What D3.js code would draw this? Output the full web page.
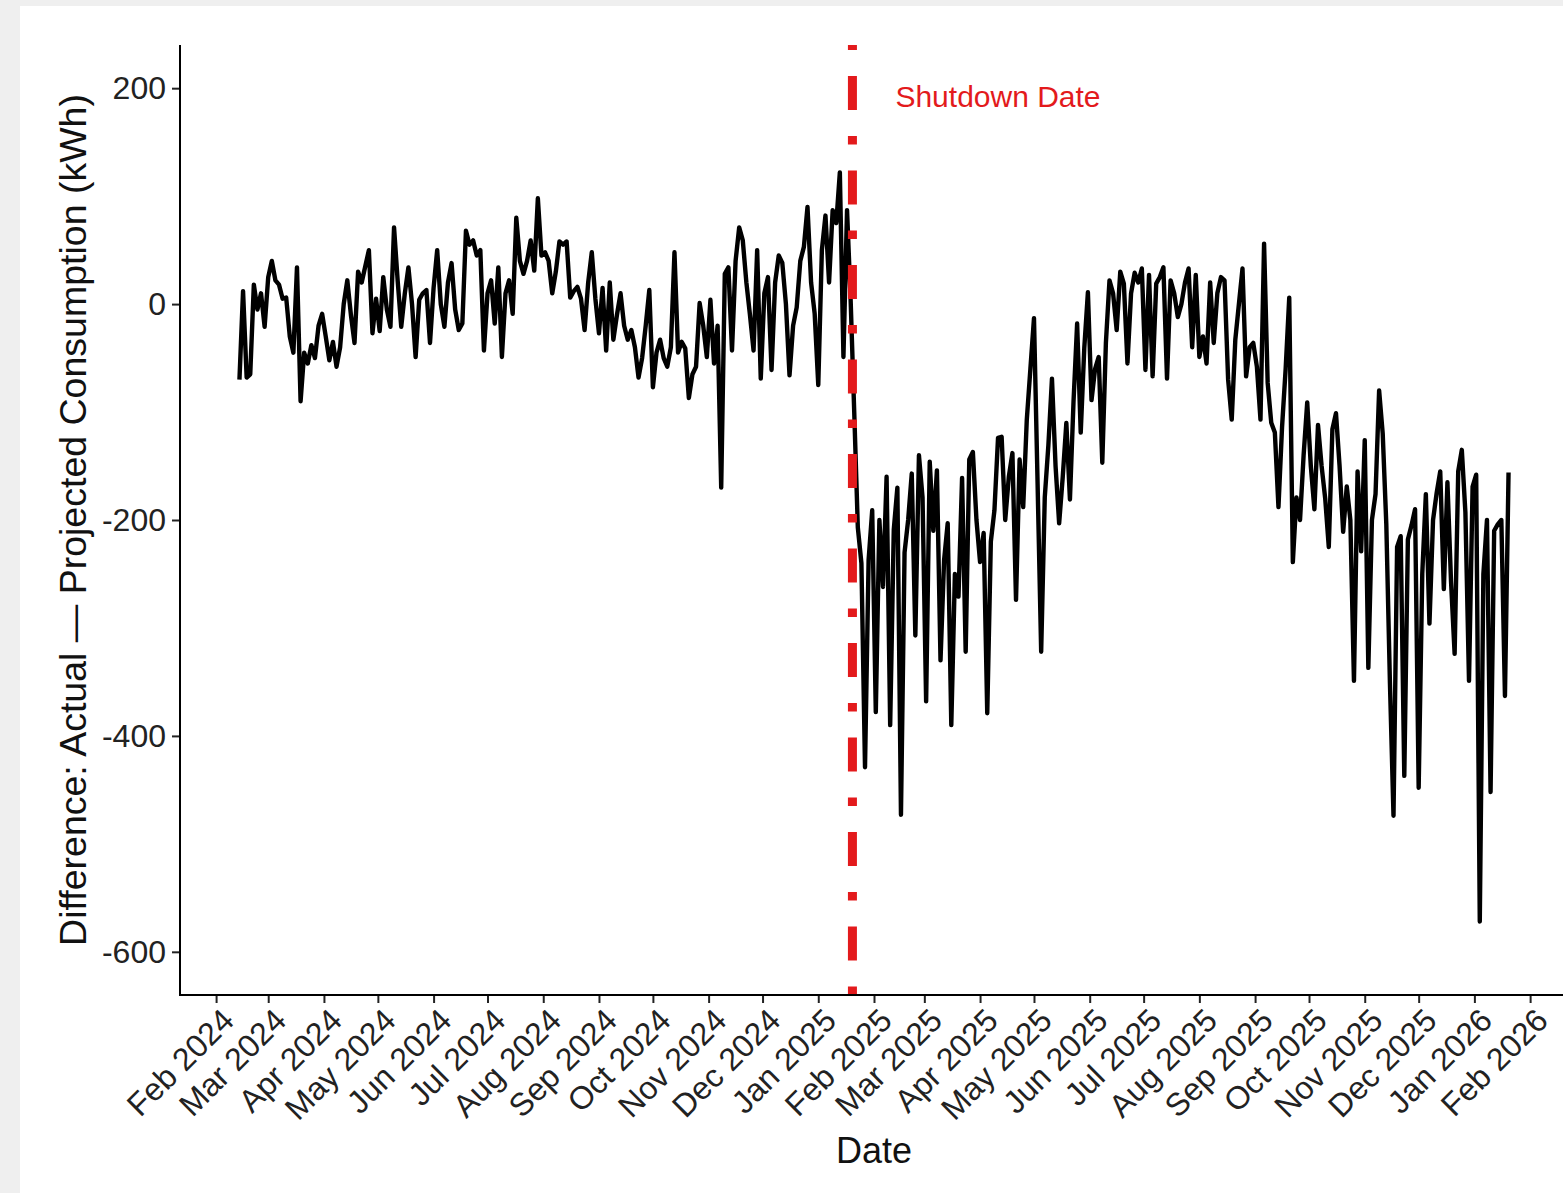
<!DOCTYPE html>
<html>
<head>
<meta charset="utf-8">
<script src="https://cdn.jsdelivr.net/npm/d3@7"></script>
<style>
  html, body { margin: 0; padding: 0; background: #efefef; }
  svg { display: block; }
  text { font-family: "Liberation Sans", Arial, sans-serif; }
</style>
</head>
<body>
<script>
// Daily difference series, sampled every second day from the start date
const startDate = "2024-02-14";
const stepDays = 2;
const diffValues = [
  -70, 12, -68, -65, 18, -5, 10, -21, 25, 40,
  22, 18, 5, 6, -30, -45, 34, -90, -45, -55,
  -38, -50, -20, -9, -30, -52, -35, -58, -40, 0,
  22, -10, -36, 30, 20, 35, 50, -27, 5, -25,
  25, -5, -21, 71, 22, -21, 10, 34, 0, -49,
  4, 10, 13, -36, 15, 50, 0, -21, 20, 38,
  -5, -24, -18, 68, 55, 59, 45, 50, -43, 10,
  22, -18, 34, -49, 10, 22, -9, 80, 40, 28,
  40, 59, 31, 98, 45, 48, 40, 10, 30, 58,
  55, 58, 6, 12, 16, 5, -24, 20, 48, 5,
  -27, 15, -43, 20, -33, -10, 10, -20, -33, -24,
  -40, -68, -50, -20, 13, -77, -45, -33, -50, -58,
  -40, 48, -45, -35, -41, -87, -65, -58, 1, -20,
  -49, 4, -55, -20, -170, 28, 34, -43, 40, 71,
  59, 20, -10, -43, 50, -69, 10, 25, -61, 20,
  45, 38, 0, -66, -20, -3, 40, 53, 90, 20,
  -9, -75, 50, 82, 20, 87, 75, 122, -49, 87,
  4,
  -100, -207, -240, -429, -237, -191, -378, -200, -262, -160,
  -390, -209, -170, -473, -230, -200, -157, -307, -140, -179,
  -368, -146, -210, -154, -330, -237, -203, -390, -250, -271,
  -161, -322, -144, -137, -200, -239, -212, -379, -220, -191,
  -124, -123, -200, -160, -138, -274, -144, -188, -107, -60,
  -13, -166, -322, -179, -131, -69, -150, -203, -160, -110,
  -181, -90, -18, -119, -40, 11, -89, -60, -49, -147,
  -36, 22, 10, -24, 30, 19, -55, 10, 29, 20,
  33, -61, 27, -67, 19, 25, 34, -69, 22, 10,
  -12, 0, 20, 33, -40, 27, -49, -30, -55, 20,
  -36, 10, 25, 22, -70, -107, -33, 0, 33, -67,
  -40, -36, -58, -107, 56, -73, -110, -119, -188, -114,
  -60, 6, -239, -179, -200, -140, -91, -150, -190, -112,
  -150, -180, -225, -116, -101, -150, -211, -169, -200, -349,
  -155, -229, -126, -337, -200, -176, -80, -120, -204, -350,
  -474, -225, -215, -437, -218, -205, -190, -448, -250, -176,
  -296, -200, -175, -155, -264, -165, -257, -324, -155, -135,
  -193, -349, -169, -158, -572, -250, -200, -452, -210, -204,
  -200, -363, -156
];

const shutdownDate = "2025-01-20";
const shutdownLabel = "Shutdown Date";
const yLimits = [-600, 200];
const yTickValues = [200, 0, -200, -400, -600];
const xTickFirst = "2024-02-01";
const xTickLast = "2026-02-01";
const xTitle = "Date";
const yTitle = "Difference: Actual \u2014 Projected Consumption (kWh)";

const W = 1563, H = 1193;
const panel = { left: 180, top: 45, bottom: 995, xRangeLeft: 176, xRangeRight: 1572 };
const red = "#e31a1c";

const parse = d3.utcParse("%Y-%m-%d");
const t0 = parse(startDate);
const series = diffValues.map((v, i) => ({ date: d3.utcDay.offset(t0, i * stepDays), value: v }));

// 5% expansion on both scales
const [dMin, dMax] = d3.extent(series, d => d.date);
const pad = (dMax - dMin) * 0.05;
const x = d3.scaleUtc()
  .domain([new Date(+dMin - pad), new Date(+dMax + pad)])
  .range([panel.xRangeLeft, panel.xRangeRight]);

const ySpan = yLimits[1] - yLimits[0];
const y = d3.scaleLinear()
  .domain([yLimits[0] - ySpan * 0.05, yLimits[1] + ySpan * 0.05])
  .range([panel.bottom, panel.top]);

const svg = d3.select("body").append("svg").attr("width", W).attr("height", H);
svg.append("rect").attr("width", W).attr("height", H).attr("fill", "#efefef");
svg.append("rect").attr("x", 20).attr("y", 6).attr("width", W - 20).attr("height", H - 6).attr("fill", "#ffffff");

// series line
svg.append("path")
  .datum(series)
  .attr("fill", "none")
  .attr("stroke", "#000")
  .attr("stroke-width", 4.4)
  .attr("stroke-linejoin", "round")
  .attr("d", d3.line().x(d => x(d.date)).y(d => y(d.value)));

// shutdown marker, dash pattern drawn upward from the bottom of the panel
const sx = x(parse(shutdownDate));
svg.append("line")
  .attr("x1", sx).attr("x2", sx)
  .attr("y1", panel.bottom).attr("y2", panel.top)
  .attr("stroke", red)
  .attr("stroke-width", 9)
  .attr("stroke-dasharray", "8.5,26,34,26");

svg.append("text")
  .attr("x", sx + 43)
  .attr("y", 107)
  .attr("fill", red)
  .attr("font-size", 30)
  .text(shutdownLabel);

// y axis
const gy = svg.append("g")
  .attr("transform", `translate(${panel.left},0)`)
  .call(d3.axisLeft(y).tickValues(yTickValues).tickFormat(d => String(d)).tickSize(8).tickSizeOuter(0).tickPadding(6));
gy.select(".domain").remove();
gy.selectAll(".tick line").attr("stroke", "#222").attr("stroke-width", 2);
gy.selectAll(".tick text")
  .attr("font-size", 32)
  .attr("fill", "#222")
  .attr("font-family", "Liberation Sans, Arial, sans-serif");

svg.append("line")
  .attr("x1", panel.left).attr("x2", panel.left)
  .attr("y1", panel.top).attr("y2", panel.bottom + 1)
  .attr("stroke", "#000").attr("stroke-width", 2);

// x axis
const monthTicks = d3.utcMonth.range(parse(xTickFirst), d3.utcDay.offset(parse(xTickLast), 1));
const gx = svg.append("g")
  .attr("transform", `translate(0,${panel.bottom})`)
  .call(d3.axisBottom(x).tickValues(monthTicks).tickFormat(d3.utcFormat("%b %Y")).tickSize(8).tickSizeOuter(0));
gx.select(".domain").remove();
gx.selectAll(".tick line").attr("stroke", "#222").attr("stroke-width", 2);
gx.selectAll(".tick text")
  .attr("x", 0).attr("y", 0).attr("dy", "0.72em")
  .attr("text-anchor", "end")
  .attr("transform", "translate(3,11) rotate(-45)")
  .attr("font-size", 32)
  .attr("fill", "#222")
  .attr("font-family", "Liberation Sans, Arial, sans-serif");

svg.append("line")
  .attr("x1", panel.left - 1).attr("x2", W)
  .attr("y1", panel.bottom).attr("y2", panel.bottom)
  .attr("stroke", "#000").attr("stroke-width", 2);

// axis titles
svg.append("text")
  .attr("x", (panel.xRangeLeft + panel.xRangeRight) / 2)
  .attr("y", 1163)
  .attr("text-anchor", "middle")
  .attr("font-size", 36)
  .attr("fill", "#111")
  .text(xTitle);

svg.append("text")
  .attr("transform", `translate(86,${(panel.top + panel.bottom) / 2}) rotate(-90)`)
  .attr("text-anchor", "middle")
  .attr("font-size", 37.5)
  .attr("fill", "#111")
  .text(yTitle);
</script>
</body>
</html>
